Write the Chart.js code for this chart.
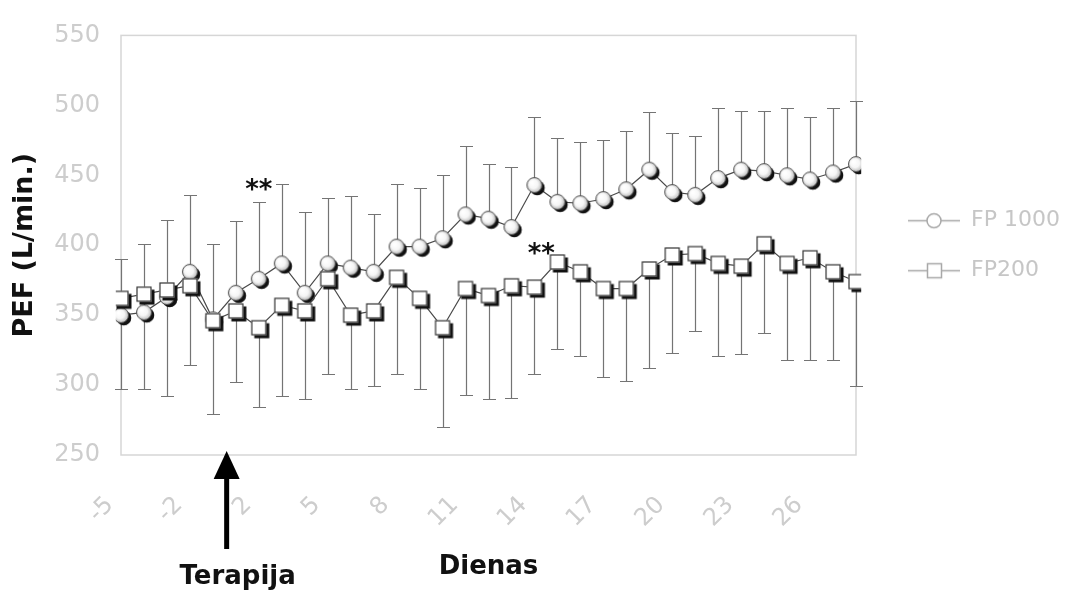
<!DOCTYPE html>
<html>
<head>
<meta charset="utf-8">
<script src="https://cdn.jsdelivr.net/npm/chart.js@4.4.0/dist/chart.umd.min.js"></script>
<style>
  html, body { margin: 0; padding: 0; background: #fff; overflow: hidden; }
  #wrap { width: 1069px; height: 593px; }
  #wrap canvas { display: block; }
</style>
</head>
<body>
<div id="wrap"><canvas id="pefChart"></canvas></div>
<script>
// days relative to therapy start (no day 0)
const days = [-5, -4, -3, -2, -1, 1, 2, 3, 4, 5, 6, 7, 8, 9, 10, 11, 12, 13, 14, 15, 16, 17, 18, 19, 20, 21, 22, 23, 24, 25, 26, 27, 28];
const tickDays = [-5, -2, 2, 5, 8, 11, 14, 17, 20, 23, 26];
const yTicks = [250, 300, 350, 400, 450, 500, 550];

// FP 1000: mean and upper end of the error bar
const fp1000Mean = [350, 352, 363, 381, 347, 366, 376, 387, 366, 387, 384, 381, 399, 399, 405, 422, 419, 413, 443, 431, 430, 433, 440, 454, 438, 436, 448, 454, 453, 450, 447, 452, 458];
const fp1000Upper = [390, 401, 418, 436, 401, 417, 431, 444, 424, 434, 435, 422, 444, 441, 450, 471, 458, 456, 492, 477, 474, 475, 482, 495, 480, 478, 498, 496, 496, 498, 492, 498, 503];

// FP200: mean and lower end of the error bar
const fp200Mean = [362, 365, 368, 371, 346, 353, 341, 357, 353, 376, 350, 353, 377, 362, 341, 369, 364, 371, 370, 388, 381, 369, 369, 383, 393, 394, 387, 385, 401, 387, 391, 381, 374];
const fp200Lower = [297, 297, 292, 314, 279, 302, 284, 292, 290, 308, 297, 299, 308, 297, 270, 293, 290, 291, 308, 326, 321, 306, 303, 312, 323, 339, 321, 322, 337, 318, 318, 318, 299];

// significance marks: [day index, value]
const starMarks = [[6, 440], [18.3, 394]];
const therapyAt = 4.6;

const tickColor = '#cdcdcd';

function makeMarker(shape) {
    const c = document.createElement('canvas');
    c.width = 24; c.height = 24;
    const g = c.getContext('2d');
    const cx = 12, cy = 12;
    g.fillStyle = '#111';
    if (shape === 'circle') {
        const r = 7.5;
        g.beginPath(); g.arc(cx + 2.8, cy + 2.8, r, 0, Math.PI * 2); g.fill();
        const grad = g.createRadialGradient(cx - 2.5, cy - 2.5, 1, cx, cy, r);
        grad.addColorStop(0, '#ffffff');
        grad.addColorStop(0.55, '#f6f6f6');
        grad.addColorStop(1, '#bdbdbd');
        g.fillStyle = grad;
        g.beginPath(); g.arc(cx, cy, r, 0, Math.PI * 2); g.fill();
        g.strokeStyle = '#555'; g.lineWidth = 1;
        g.stroke();
    } else {
        const s = 15;
        g.fillRect(cx - s / 2 + 3, cy - s / 2 + 3, s, s);
        g.fillStyle = '#fff';
        g.fillRect(cx - s / 2, cy - s / 2, s, s);
        g.strokeStyle = '#333'; g.lineWidth = 1.2;
        g.strokeRect(cx - s / 2 + 0.5, cy - s / 2 + 0.5, s - 1, s - 1);
    }
    return c;
}

function makeLegendSymbol(shape) {
    const c = document.createElement('canvas');
    c.width = 52; c.height = 20;
    const g = c.getContext('2d');
    g.strokeStyle = '#a8a8a8'; g.lineWidth = 1.5;
    g.beginPath(); g.moveTo(0, 10.5); g.lineTo(52, 10.5); g.stroke();
    g.fillStyle = '#fff';
    g.beginPath();
    if (shape === 'circle') g.arc(26, 10.5, 7, 0, Math.PI * 2);
    else g.rect(19.5, 3.5, 14, 14);
    g.fill(); g.stroke();
    return c;
}

const errorBars = {
    id: 'errorBars',
    beforeDatasetsDraw(chart) {
        const { ctx, scales: { x, y } } = chart;
        ctx.save();
        ctx.strokeStyle = '#747474';
        ctx.lineWidth = 1.2;
        const draw = (means, ends) => {
            means.forEach((m, i) => {
                const px = Math.round(x.getPixelForValue(i)) + 0.5;
                const y0 = y.getPixelForValue(m);
                const y1 = Math.round(y.getPixelForValue(ends[i])) + 0.5;
                ctx.beginPath();
                ctx.moveTo(px, y0); ctx.lineTo(px, y1);
                ctx.moveTo(px - 6.5, y1); ctx.lineTo(px + 6.5, y1);
                ctx.stroke();
            });
        };
        draw(fp1000Mean, fp1000Upper);
        draw(fp200Mean, fp200Lower);
        ctx.restore();
    }
};

const frameAndNotes = {
    id: 'frameAndNotes',
    afterLayout(chart) {
        // let the legend text run to the canvas edge instead of being clipped
        if (chart.legend) chart.legend.right = chart.width;
    },
    beforeDraw(chart) {
        const { ctx, chartArea: a } = chart;
        ctx.save();
        ctx.strokeStyle = '#d6d6d6';
        ctx.lineWidth = 1.5;
        ctx.strokeRect(a.left, a.top, a.right - a.left, a.bottom - a.top);
        ctx.restore();
    },
    afterDraw(chart) {
        const { ctx, scales: { x, y } } = chart;
        ctx.save();
        ctx.fillStyle = '#111';
        ctx.font = 'bold 26px "DejaVu Sans"';
        ctx.textAlign = 'center';
        ctx.textBaseline = 'middle';
        starMarks.forEach(([i, v]) => {
            ctx.fillText('**', x.getPixelForValue(i), y.getPixelForValue(v) + 2);
        });
        // therapy arrow
        const ax = x.getPixelForValue(therapyAt);
        const tipY = y.bottom - 4;
        ctx.fillStyle = '#000';
        ctx.beginPath();
        ctx.moveTo(ax, tipY);
        ctx.lineTo(ax - 13, tipY + 28);
        ctx.lineTo(ax + 13, tipY + 28);
        ctx.closePath();
        ctx.fill();
        ctx.fillRect(ax - 2.5, tipY + 26, 5, 72);
        ctx.textBaseline = 'alphabetic';
        ctx.fillStyle = '#111';
        ctx.fillText('Terapija', ax + 11, 584);
        ctx.restore();
    }
};

new Chart(document.getElementById('pefChart'), {
    type: 'line',
    data: {
        labels: days,
        datasets: [
            {
                label: 'FP 1000',
                data: fp1000Mean,
                borderColor: '#4a4a4a',
                borderWidth: 1.2,
                pointStyle: makeMarker('circle'),
                order: 2
            },
            {
                label: 'FP200',
                data: fp200Mean,
                borderColor: '#4a4a4a',
                borderWidth: 1.2,
                pointStyle: makeMarker('square'),
                order: 1
            }
        ]
    },
    options: {
        responsive: true,
        maintainAspectRatio: false,
        animation: false,
        layout: { padding: { left: 5, top: 25, right: 14, bottom: 10 } },
        plugins: {
            tooltip: { enabled: false },
            legend: {
                position: 'right',
                fullSize: false,
                labels: {
                    usePointStyle: true,
                    pointStyleWidth: 52,
                    padding: 28,
                    color: '#c6c6c6',
                    font: { family: 'DejaVu Sans', size: 22 },
                    generateLabels: () => [
                        { text: 'FP 1000', pointStyle: makeLegendSymbol('circle'), fontColor: '#c6c6c6', lineWidth: 0, strokeStyle: 'transparent', fillStyle: 'transparent', datasetIndex: 0 },
                        { text: 'FP200', pointStyle: makeLegendSymbol('square'), fontColor: '#c6c6c6', lineWidth: 0, strokeStyle: 'transparent', fillStyle: 'transparent', datasetIndex: 1 }
                    ]
                }
            }
        },
        scales: {
            x: {
                offset: false,
                grid: { display: false, drawTicks: false },
                border: { display: false },
                ticks: {
                    autoSkip: false,
                    minRotation: 45,
                    maxRotation: 45,
                    padding: 36,
                    labelOffset: -11,
                    color: tickColor,
                    font: { family: 'DejaVu Sans', size: 24 },
                    callback: (v, i) => tickDays.includes(days[i]) ? String(days[i]) : ''
                },
                title: {
                    display: true,
                    text: 'Dienas',
                    color: '#111',
                    font: { family: 'DejaVu Sans', size: 26, weight: 'bold' },
                    padding: { top: 0, bottom: 0 }
                },
                afterFit: (s) => { s.height = 128; }
            },
            y: {
                min: 250,
                max: 550,
                grid: { display: false, drawTicks: false },
                border: { display: false },
                afterBuildTicks: (s) => { s.ticks = yTicks.map(v => ({ value: v })); },
                ticks: {
                    padding: 21,
                    color: tickColor,
                    font: { family: 'DejaVu Sans', size: 24 }
                },
                title: {
                    display: true,
                    text: 'PEF (L/min.)',
                    color: '#111',
                    font: { family: 'DejaVu Sans', size: 27, weight: 'bold' }
                },
                afterFit: (s) => { s.width = 116; }
            },
            gap: {
                position: 'right',
                display: true,
                grid: { display: false, drawTicks: false },
                border: { display: false },
                ticks: { display: false },
                afterFit: (s) => { s.width = 24; }
            }
        }
    },
    plugins: [errorBars, frameAndNotes]
});
</script>
</body>
</html>
